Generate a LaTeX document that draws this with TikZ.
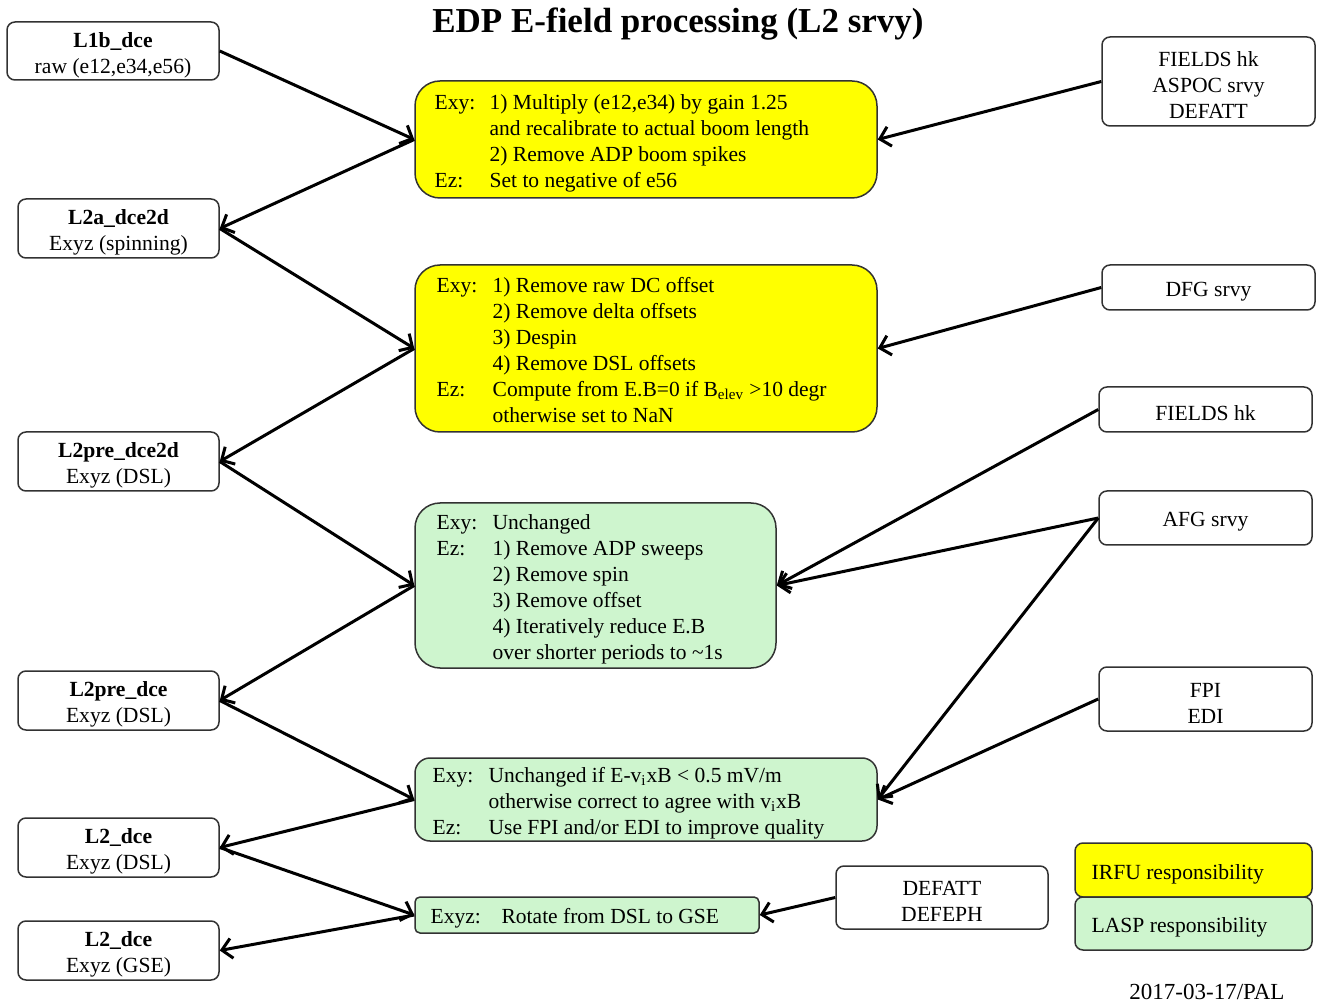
\documentclass[tikz,border=0pt]{standalone}
\usepackage{fontspec}
\setmainfont{Liberation Serif}
\usetikzlibrary{arrows.meta}
\definecolor{irfu}{RGB}{255,255,0}
\definecolor{lasp}{RGB}{206,245,206}
\definecolor{edge}{RGB}{50,50,50}
\newcommand{\bodyfont}{\fontsize{10.8}{13}\selectfont}
\newcommand{\procfont}{\fontsize{10.75}{13}\selectfont}
\tikzset{
  base/.style={draw=edge, line width=0.75pt, inner sep=0pt},
  datanode/.style={base, rounded corners=4pt, fill=white, minimum width=100.5pt, minimum height=29.5pt},
  srcnode/.style={base, rounded corners=4pt, fill=white, minimum width=106.5pt},
  ctxt/.style={inner sep=0pt, align=center, font=\bodyfont},
  ltxt/.style={inner sep=0pt, anchor=west, align=left, font=\procfont},
  flow/.style={line width=1.5pt, -{Straight Barb[length=5pt,width=10pt,line width=1.5pt]}}
}
\begin{document}
\begin{tikzpicture}[x=0.5pt,y=-0.5pt]
\useasboundingbox (0,0) rectangle (1323,1005);
% title
\node[font=\fontsize{17.5}{20}\selectfont\bfseries] (title) at (678,24) {EDP E-field processing (L2 srvy)};

% left data products
\node[datanode, minimum width=106pt, minimum height=29pt] (l1b) at (113,51) {};
\node[ctxt] (l1bt) at ([yshift=-2pt]l1b.center) {\textbf{L1b\_dce}\\raw (e12,e34,e56)};
\node[datanode] (l2a) at (118.5,228.5) {};
\node[ctxt] (l2at) at ([yshift=-2pt]l2a.center) {\textbf{L2a\_dce2d}\\Exyz (spinning)};
\node[datanode] (l2pre2d) at (118.5,461.5) {};
\node[ctxt] (l2pre2dt) at ([yshift=-2pt]l2pre2d.center) {\textbf{L2pre\_dce2d}\\Exyz (DSL)};
\node[datanode] (l2pre) at (118.5,700.5) {};
\node[ctxt] (l2pret) at ([yshift=-2pt]l2pre.center) {\textbf{L2pre\_dce}\\Exyz (DSL)};
\node[datanode] (l2dsl) at (118.5,847.5) {};
\node[ctxt] (l2dslt) at ([yshift=-2pt]l2dsl.center) {\textbf{L2\_dce}\\Exyz (DSL)};
\node[datanode] (l2gse) at (118.5,950.5) {};
\node[ctxt] (l2gset) at ([yshift=-2pt]l2gse.center) {\textbf{L2\_dce}\\Exyz (GSE)};

% processing boxes
\node[base, fill=irfu, rounded corners=12.5pt, minimum width=231pt, minimum height=58.5pt] (p1) at (646,139.5) {};
\node[ltxt] (p1t) at ([xshift=10pt,yshift=-2pt]p1.west)
 {\begin{tabular}{@{}p{27.5pt}@{}l@{}}
  Exy: & 1) Multiply (e12,e34) by gain 1.25\\
       & and recalibrate to actual boom length\\
       & 2) Remove ADP boom spikes\\
  Ez:  & Set to negative of e56
  \end{tabular}};
\node[base, fill=irfu, rounded corners=12.5pt, minimum width=231pt, minimum height=83.5pt] (p2) at (646,348.5) {};
\node[ltxt] (p2t) at ([xshift=11pt,yshift=-2pt]p2.west)
 {\begin{tabular}{@{}p{28pt}@{}l@{}}
  Exy: & 1) Remove raw DC offset\\
       & 2) Remove delta offsets\\
       & 3) Despin\\
       & 4) Remove DSL offsets\\
  Ez:  & Compute from E.B=0 if B\textsubscript{elev} \textgreater10 degr\\
       & otherwise set to NaN
  \end{tabular}};
\node[base, fill=lasp, rounded corners=12.5pt, minimum width=180.5pt, minimum height=82.5pt] (p3) at (595.5,585.5) {};
\node[ltxt] (p3t) at ([xshift=11pt,yshift=-2pt]p3.west)
 {\begin{tabular}{@{}p{28pt}@{}l@{}}
  Exy: & Unchanged\\
  Ez:  & 1) Remove ADP sweeps\\
       & 2) Remove spin\\
       & 3) Remove offset\\
       & 4) Iteratively reduce E.B\\
       & over shorter periods to \textasciitilde1s
  \end{tabular}};
\node[base, fill=lasp, rounded corners=7.5pt, minimum width=231pt, minimum height=41.5pt] (p4) at (646,799.5) {};
\node[ltxt] (p4t) at ([xshift=9pt,yshift=-2pt]p4.west)
 {\begin{tabular}{@{}p{28pt}@{}l@{}}
  Exy: & Unchanged if E-v\textsubscript{i}xB \textless{} 0.5 mV/m\\
       & otherwise correct to agree with v\textsubscript{i}xB\\
  Ez:  & Use FPI and/or EDI to improve quality
  \end{tabular}};
\node[base, fill=lasp, rounded corners=2.5pt, minimum width=172pt, minimum height=18pt] (p5) at (587,915) {};
\node[ltxt] (p5t) at ([xshift=8pt,yshift=-1.5pt]p5.west)
 {\begin{tabular}{@{}p{35.5pt}@{}l@{}}
  Exyz: & Rotate from DSL to GSE
  \end{tabular}};

% right sources
\node[srcnode, minimum height=44.5pt] (s1) at (1208.5,81.5) {};
\node[ctxt] (s1t) at ([yshift=-2pt]s1.center) {FIELDS hk\\ASPOC srvy\\DEFATT};
\node[srcnode, minimum height=22.5pt] (dfg) at (1208.5,287.5) {};
\node[ctxt] (dfgt) at ([yshift=-2pt]dfg.center) {DFG srvy};
\node[srcnode, minimum height=22.5pt] (fhk) at (1205.5,409.5) {};
\node[ctxt] (fhkt) at ([yshift=-2pt]fhk.center) {FIELDS hk};
\node[srcnode, minimum height=27pt] (afg) at (1205.5,518) {};
\node[ctxt] (afgt) at ([yshift=-2pt]afg.center) {AFG srvy};
\node[srcnode, minimum height=32pt] (fpi) at (1205.5,699) {};
\node[ctxt] (fpit) at ([yshift=-2pt]fpi.center) {FPI\\EDI};
\node[srcnode, minimum width=106pt, minimum height=31.5pt] (def) at (942,897.5) {};
\node[ctxt] (deft) at ([yshift=-2pt]def.center) {DEFATT\\DEFEPH};

% legend
\node[base, fill=irfu, rounded corners=4pt, minimum width=118.5pt, minimum height=27pt] (irfu) at (1193.5,870) {};
\node[ltxt, font=\bodyfont] (irfut) at ([xshift=8.5pt,yshift=-2pt]irfu.west) {IRFU responsibility};
\node[base, fill=lasp, rounded corners=4pt, minimum width=118.5pt, minimum height=26.5pt] (laspl) at (1193.5,923.5) {};
\node[ltxt, font=\bodyfont] (laspt) at ([xshift=8.5pt,yshift=-2pt]laspl.west) {LASP responsibility};
\node[font=\fontsize{11.5}{13}\selectfont] (date) at (1207,992) {2017-03-17/PAL};

% left chain
\draw[flow] (l1b.east) -- (p1.west);
\draw[flow] (p1.west) -- (l2a.east);
\draw[flow] (l2a.east) -- (p2.west);
\draw[flow] (p2.west) -- (l2pre2d.east);
\draw[flow] (l2pre2d.east) -- (p3.west);
\draw[flow] (p3.west) -- (l2pre.east);
\draw[flow] (l2pre.east) -- (p4.west);
\draw[flow] (p4.west) -- (l2dsl.east);
\draw[flow] (l2dsl.east) -- (p5.west);
\draw[flow] (p5.west) -- (l2gse.east);

% right inputs
\draw[flow] (s1.west) -- (p1.east);
\draw[flow] (dfg.west) -- (p2.east);
\draw[flow] (fhk.west) -- (p3.east);
\draw[flow] (afg.west) -- (p3.east);
\draw[flow] (afg.west) -- (p4.east);
\draw[flow] (fpi.west) -- (p4.east);
\draw[flow] (def.west) -- (p5.east);
\end{tikzpicture}
\end{document}
